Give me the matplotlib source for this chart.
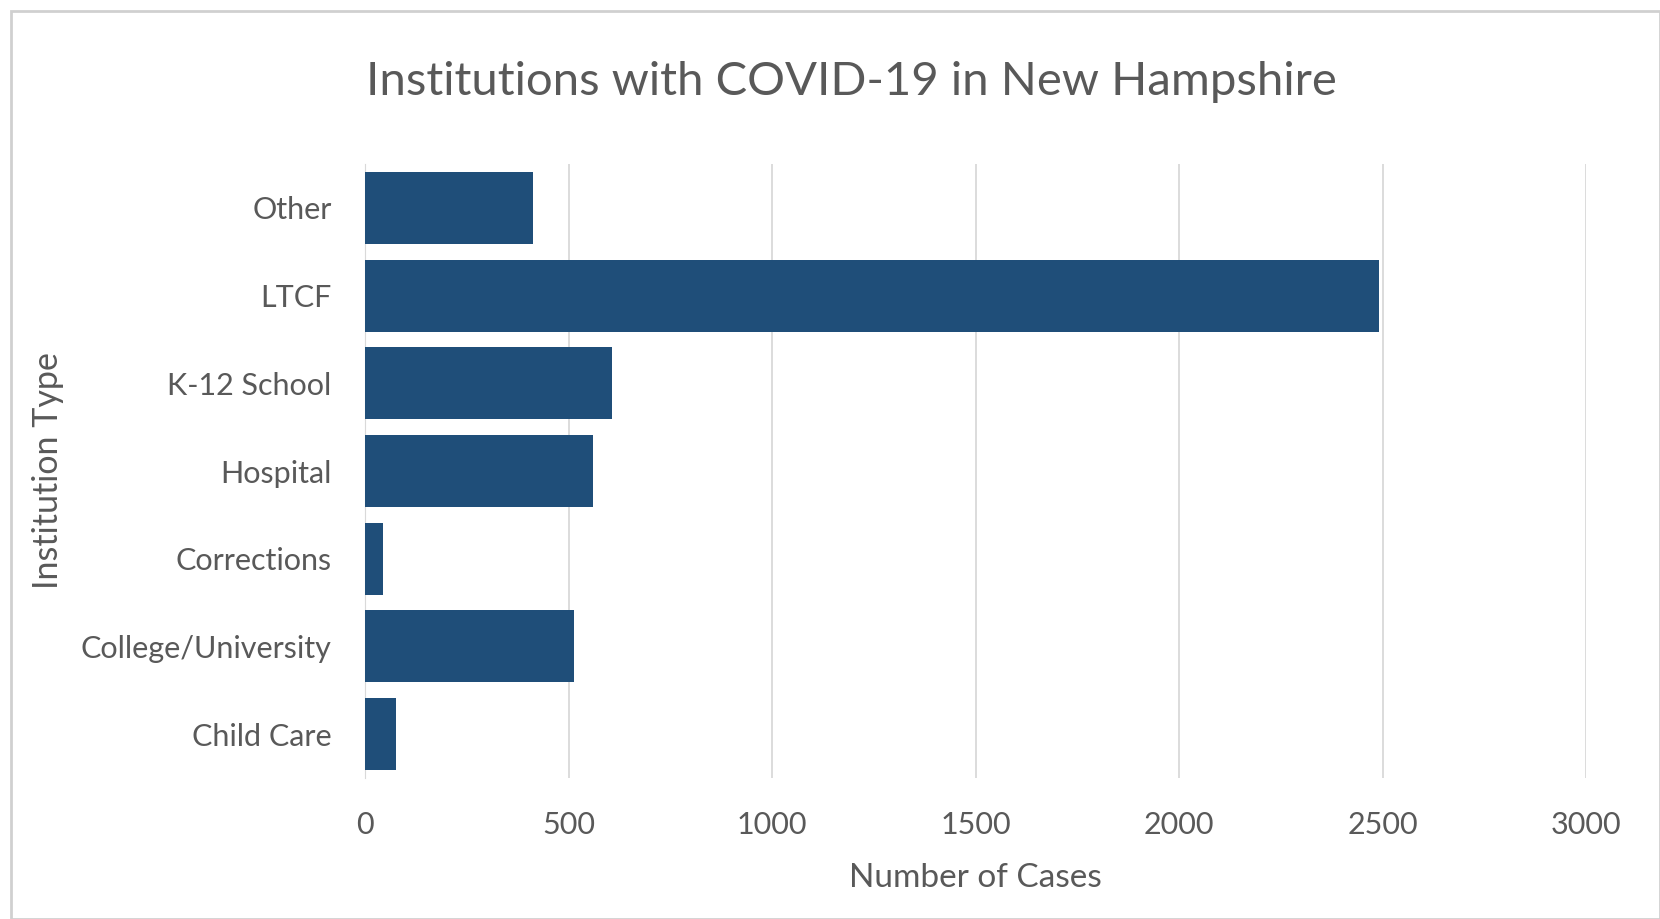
import matplotlib
matplotlib.use('Agg')
import matplotlib.pyplot as plt
from matplotlib.patches import Rectangle

# ── Data ─────────────────────────────────────────────
categories = ['Child Care', 'College/University', 'Corrections', 'Hospital',
              'K-12 School', 'LTCF', 'Other']
cases = [75, 513, 44, 560, 607, 2492, 414]
x_ticks = [0, 500, 1000, 1500, 2000, 2500, 3000]

BAR_COLOR = '#1f4e79'
TEXT_COLOR = '#595959'
GRID_COLOR = '#d9d9d9'

plt.rcParams['font.family'] = ['Lato', 'DejaVu Sans']

fig = plt.figure(figsize=(16.6, 9.19), dpi=100)
ax = fig.add_axes([365 / 1660, 1 - 778 / 919, (1586 - 365) / 1660, (778 - 164) / 919])

ax.barh(categories, cases, height=0.82, color=BAR_COLOR, zorder=3)

ax.set_xlim(0, 3000)
ax.set_ylim(-0.5, len(categories) - 0.5)
ax.set_xticks(x_ticks)
ax.xaxis.grid(True, color=GRID_COLOR, lw=1.3, zorder=0)
ax.set_axisbelow(True)
for s in ['top', 'right', 'bottom']:
    ax.spines[s].set_visible(False)
ax.spines['left'].set_color(GRID_COLOR)
ax.tick_params(length=0, labelsize=22, colors=TEXT_COLOR)
ax.tick_params(axis='y', pad=24)
ax.tick_params(axis='x', pad=24)

ax.set_xlabel('Number of Cases', fontsize=24, color=TEXT_COLOR, va='center')
ax.xaxis.set_label_coords(0.5, -0.163)
ax.set_ylabel('Institution Type', fontsize=24.5, color=TEXT_COLOR, va='center')
ax.yaxis.set_label_coords(-0.26, 0.5)

fig.text(0.513, 1 - 82 / 919, 'Institutions with COVID-19 in New Hampshire',
         ha='center', va='center', fontsize=34, color=TEXT_COLOR)

# outer chart border
fig.patches.append(Rectangle((11 / 1660, 0), 1 - 11 / 1660, 1 - 11 / 919,
                             transform=fig.transFigure, fill=False,
                             ec='#d0d0d0', lw=2))

plt.savefig('out.png', dpi=100)
plt.close()
